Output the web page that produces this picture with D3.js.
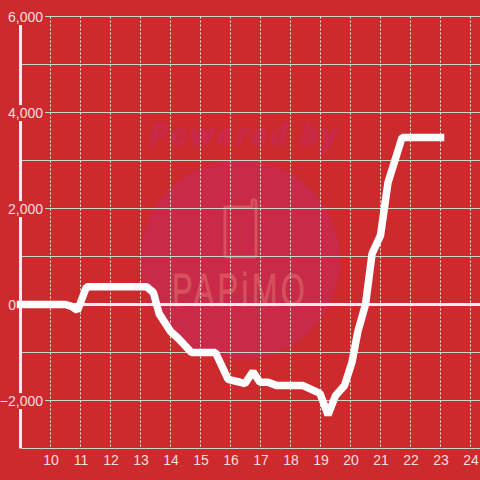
<!DOCTYPE html>
<html><head><meta charset="utf-8">
<script src="https://cdn.jsdelivr.net/npm/d3@7/dist/d3.min.js"></script>
<style>html,body{margin:0;padding:0;background:#cc2a2d;overflow:hidden}svg{display:block}</style>
</head><body><svg id="c" width="480" height="480"></svg>
<script>
const hours = [9,10.5,10.7,10.9,11.2,13.2,13.43,13.62,14,14.25,14.7,15.5,15.92,16.32,16.48,16.75,16.98,17.25,17.55,18.42,18.98,19.25,19.5,19.8,20.05,20.25,20.5,20.72,21,21.25,21.72,23];
const balance = [0,0,-40,-125,370,370,250,-190,-560,-700,-1000,-1000,-1560,-1620,-1650,-1400,-1620,-1620,-1690,-1690,-1850,-2300,-1900,-1690,-1200,-550,0,1060,1440,2540,3480,3480];
const xTicks = [10,11,12,13,14,15,16,17,18,19,20,21,22,23,24];
const yGrid = [6000,5000,4000,3000,2000,1000,0,-1000,-2000,-3000];
const yLabels = [6000,4000,2000,0,-2000];

const svg = d3.select('#c');
const x = d3.scaleLinear().domain([9,24]).range([20.5,470.5]);
const y = d3.scaleLinear().domain([-3000,6000]).range([448.5,16.5]);

svg.append('rect').attr('width',480).attr('height',480).attr('fill','#cc2a2d');

// watermark
const wm = svg.append('g');
wm.append('circle').attr('cx',240).attr('cy',260).attr('r',100).attr('fill','#c92a47');
wm.append('text').attr('x',150).attr('y',145)
  .attr('font-family','Open Sans, sans-serif').attr('font-weight',700).attr('font-style','italic')
  .attr('font-size',29).attr('textLength',187).attr('fill','#c92a47').attr('stroke','#c92a47').attr('stroke-width',1.4).text('Powered by');
wm.append('path').attr('d','M225 207 H252 V201 Q253 199 255 200 Q256 200 256 203 V255 Q256 257 254 257 H227 Q225 257 225 255 Z')
  .attr('fill','none').attr('stroke','#d6505e').attr('stroke-width',3);
wm.append('text').attr('x',172).attr('y',306)
  .attr('textLength',136).attr('lengthAdjust','spacingAndGlyphs')
  .attr('font-family','Liberation Sans, sans-serif').attr('font-size',46).attr('letter-spacing',5)
  .attr('fill','#d6505e').attr('stroke','#d6505e').attr('stroke-width',0.8).text('PAPiMO');

// grid
const grid = svg.append('g');
grid.selectAll('line.v').data(xTicks).join('line').attr('class','v')
  .attr('x1',d=>x(d)).attr('x2',d=>x(d)).attr('y1',y(6000)).attr('y2',y(-3000))
  .attr('stroke','#eef0ea').attr('stroke-width',1).attr('stroke-dasharray','2,2');
grid.selectAll('line.h').data(yGrid).join('line').attr('class','h')
  .attr('x1',22).attr('x2',480).attr('y1',d=>y(d)).attr('y2',d=>y(d))
  .attr('stroke',d=>d===0?'#f5f0ee':'#ced3cd').attr('stroke-width',d=>d===0?3:1);

// y axis line
svg.append('line').attr('x1',20.5).attr('x2',20.5).attr('y1',y(6000)).attr('y2',y(-3000))
  .attr('stroke','#f5f0ee').attr('stroke-width',3);

// axes labels through d3 axes
const fmt = d3.format(',');
const yAxis = svg.append('g').call(d3.axisLeft(y).tickValues(yLabels).tickFormat(fmt).tickSize(0).tickPadding(0))
  .attr('transform','translate(43,0)');
yAxis.select('.domain').remove();
yAxis.selectAll('text').attr('font-family','Liberation Sans, Arial, sans-serif').attr('font-size',14)
  .attr('fill','#f7dede').attr('dy','0.34em')
  .attr('dx',d=>d===0?-27:0);
yAxis.selectAll('.tick').each(function(d){
  const t=d3.select(this).select('text');
  const b=t.node().getBBox();
  if(d!==0) d3.select(this).insert('rect','text').attr('x',b.x-2).attr('y',-8).attr('width',-b.x+4).attr('height',16).attr('fill','#cc2a2d');
});

const xAxis = svg.append('g').attr('transform','translate(0,448)')
  .call(d3.axisBottom(x).tickValues(xTicks).tickFormat(d3.format('d')).tickSize(0).tickPadding(7));
xAxis.select('.domain').remove();
xAxis.selectAll('text').attr('font-family','Liberation Sans, Arial, sans-serif').attr('font-size',14).attr('fill','#f7dede');

// series
svg.append('path').datum(hours.map((h,i)=>[h,balance[i]]))
  .attr('d',d3.line().x(d=>x(d[0])).y(d=>y(d[1])))
  .attr('fill','none').attr('stroke','#ffffff').attr('stroke-width',7.5)
  .attr('stroke-linecap','square').attr('stroke-linejoin','bevel');
</script></body></html>
